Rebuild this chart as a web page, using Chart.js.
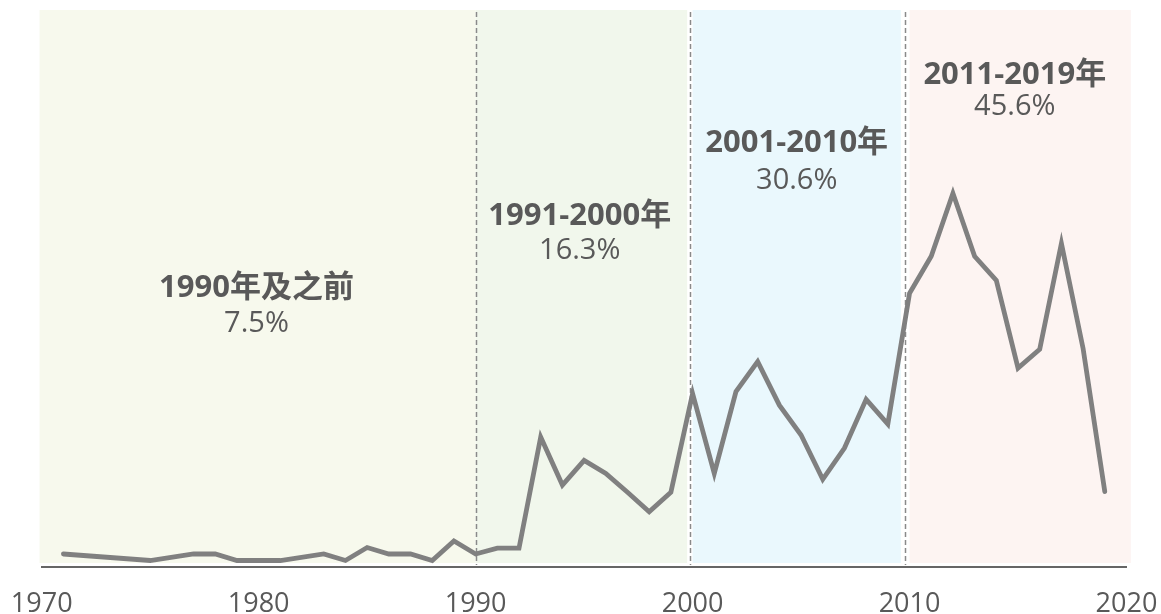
<!DOCTYPE html>
<html>
<head>
<meta charset="utf-8">
<script src="https://cdn.jsdelivr.net/npm/chart.js@4/dist/chart.umd.min.js"></script>
<style>
  html, body { margin: 0; padding: 0; background: #ffffff; }
  #wrap { width: 1161px; height: 614px; position: relative; }
</style>
</head>
<body>
<div id="wrap"><canvas id="c" width="1161" height="614"></canvas></div>
<script>
// ---- data ----
const years = [1971, 1975, 1977, 1978, 1979, 1980, 1981, 1983, 1984, 1985, 1986, 1987, 1988, 1989, 1990,
  1991, 1992, 1993, 1994, 1995, 1996, 1997, 1998, 1999, 2000,
  2001, 2002, 2003, 2004, 2005, 2006, 2007, 2008, 2009, 2010,
  2011, 2012, 2013, 2014, 2015, 2016, 2017, 2018, 2019];
const values = [2, 1, 2, 2, 1, 1, 1, 2, 1, 3, 2, 2, 1, 4, 2,
  2.9, 2.9, 20.0, 12.6, 16.4, 14.4, 11.5, 8.5, 11.5, 26.7,
  14.4, 27.0, 31.6, 24.9, 20.3, 13.5, 18.3, 25.8, 22.0, 42.1,
  47.8, 57.5, 47.8, 44.1, 30.6, 33.5, 49.8, 33.6, 11.6];
const tickValues = [1970, 1980, 1990, 2000, 2010, 2020];
const tickLabels = ['1970', '1980', '1990', '2000', '2010', '2020'];
const periodNames = ['1990年及之前', '1991-2000年', '2001-2010年', '2011-2019年'];
const periodShares = ['7.5%', '16.3%', '30.6%', '45.6%'];
const periodStart = [1969.9, 1990, 2000, 2010];
const periodEnd = [1990, 1999.75, 2009.6, 2020.2];
const dividers = [1990, 1999.9, 2009.8];

// ---- styling ----
const bandColors = ['#f7f9ed', '#f1f7ec', '#eaf8fd', '#fdf4f2'];
const labelX = [1979.9, 1994.8, 2004.8, 2014.85];
const labelNameY = [42.9, 54.0, 65.2, 75.7];
const labelShareY = [37.4, 48.6, 59.4, 70.8];
const textColor = '#595959';
const fontStack = '"Open Sans", "Noto Sans CJK SC", sans-serif';

const bgPlugin = {
  id: 'bands',
  beforeDatasetsDraw(chart) {
    const { ctx, chartArea, scales } = chart;
    const x = scales.x;
    ctx.save();
    for (let i = 0; i < periodStart.length; i++) {
      const x0 = x.getPixelForValue(periodStart[i]);
      const x1 = x.getPixelForValue(periodEnd[i]);
      ctx.fillStyle = bandColors[i];
      ctx.fillRect(x0, chartArea.top, x1 - x0, chartArea.bottom - 4 - chartArea.top);
    }
    ctx.strokeStyle = '#8a8a8a';
    ctx.lineWidth = 1.5;
    ctx.setLineDash([5, 3]);
    for (const d of dividers) {
      const px = Math.round(x.getPixelForValue(d)) + 0.5;
      ctx.beginPath();
      ctx.moveTo(px, chartArea.top + 2);
      ctx.lineTo(px, chartArea.bottom - 2);
      ctx.stroke();
    }
    ctx.setLineDash([]);
    ctx.fillStyle = textColor;
    ctx.textAlign = 'center';
    ctx.textBaseline = 'middle';
    const y = scales.y;
    for (let i = 0; i < periodNames.length; i++) {
      const cx = x.getPixelForValue(labelX[i]);
      ctx.font = 'bold 31px ' + fontStack;
      ctx.fillText(periodNames[i], cx, y.getPixelForValue(labelNameY[i]));
      ctx.font = '29px ' + fontStack;
      ctx.fillText(periodShares[i], cx, y.getPixelForValue(labelShareY[i]));
    }
    ctx.restore();
  }
};

new Chart(document.getElementById('c'), {
  type: 'line',
  data: {
    datasets: [{
      data: years.map((yr, i) => ({ x: yr, y: values[i] })),
      borderColor: '#808080',
      borderWidth: 4.8,
      borderCapStyle: 'round',
      borderJoinStyle: 'miter',
      pointRadius: 0,
      tension: 0,
      fill: false
    }]
  },
  options: {
    responsive: false,
    animation: false,
    devicePixelRatio: 1,
    layout: { padding: { left: 41.7, right: 34.5, top: 10, bottom: 0 } },
    plugins: { legend: { display: false }, tooltip: { enabled: false } },
    scales: {
      x: {
        type: 'linear',
        min: 1970,
        max: 2020,
        grid: { display: false, drawTicks: false },
        border: { display: true, color: '#666666', width: 2 },
        afterBuildTicks(scale) { scale.ticks = tickValues.map(v => ({ value: v })); },
        afterFit(scale) { scale.height = 47; scale.paddingLeft = 0; scale.paddingRight = 0; },
        ticks: {
          color: textColor,
          font: { size: 27, family: fontStack },
          padding: 21,
          maxRotation: 0,
          autoSkip: false,
          callback: (v) => tickLabels[tickValues.indexOf(v)]
        }
      },
      y: {
        display: false,
        min: 0,
        max: 85.7
      }
    }
  },
  plugins: [bgPlugin]
});
</script>
</body>
</html>
